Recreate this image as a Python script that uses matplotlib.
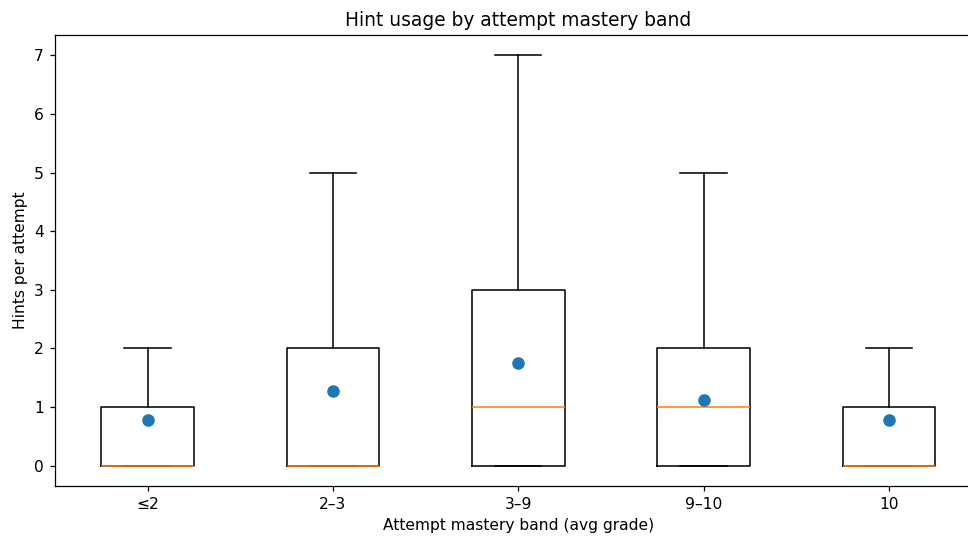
import matplotlib
matplotlib.use("Agg")
import matplotlib.pyplot as plt

categories = ["≤2", "2–3", "3–9", "9–10", "10"]
q1 = [0, 0, 0, 0, 0]
medians = [0, 0, 1, 1, 0]
q3 = [1, 2, 3, 2, 1]
whislo = [0, 0, 0, 0, 0]
whishi = [2, 5, 7, 5, 2]
means = [0.78, 1.27, 1.75, 1.12, 0.78]

W, H = 969, 538
DPI = 112
fig = plt.figure(figsize=(W / DPI, H / DPI), dpi=DPI)
left, right, top, bottom = 55, 981.5, 35, 486
ax = fig.add_axes([left / W, 1 - bottom / H, (right - left) / W, (bottom - top) / H])

stats = []
for i, c in enumerate(categories):
    stats.append(dict(label=c, q1=q1[i], med=medians[i], q3=q3[i],
                      whislo=whislo[i], whishi=whishi[i], fliers=[]))
ax.bxp(stats, showfliers=False)
positions = list(range(1, len(categories) + 1))
ax.scatter(positions, means, s=50, color="C0", zorder=3)

ax.set_title("Hint usage by attempt mastery band")
ax.set_xlabel("Attempt mastery band (avg grade)")
ax.set_ylabel("Hints per attempt")

fig.savefig("out.png", dpi=DPI)
